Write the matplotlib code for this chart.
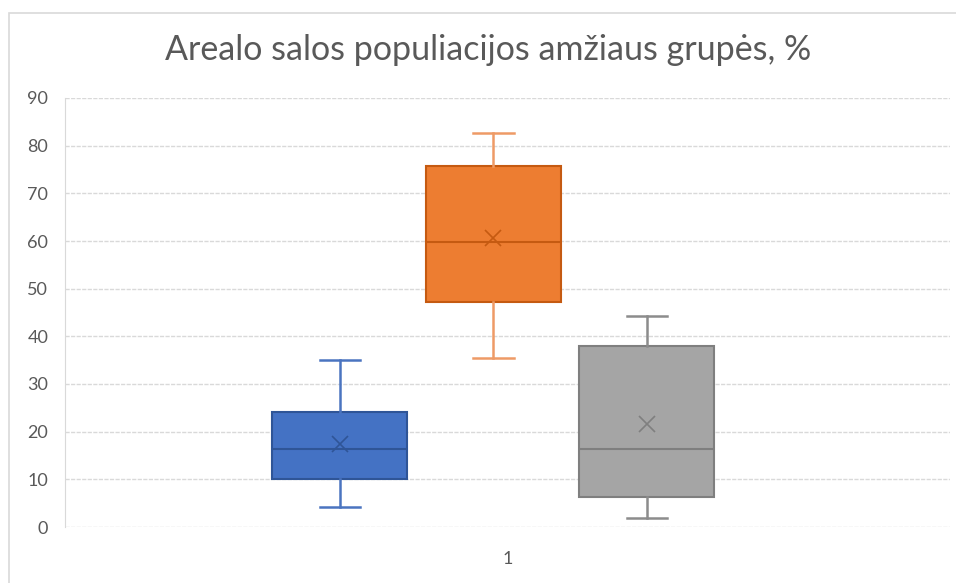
import matplotlib.pyplot as plt
from matplotlib.patches import Rectangle

# age-group distributions (%), one box per group
groups = ["0-14", "15-64", "65+"]
whisker_low = [4.1, 35.5, 1.8]
q1 = [10.0, 47.2, 6.2]
median = [16.4, 59.8, 16.4]
q3 = [24.2, 75.7, 37.9]
whisker_high = [35.0, 82.7, 44.3]
mean = [17.4, 60.6, 21.6]

yticks = [0, 10, 20, 30, 40, 50, 60, 70, 80, 90]
category_label = "1"

face_colors = ["#4472C4", "#ED7D31", "#A5A5A5"]
edge_colors = ["#2F5597", "#C55A11", "#7F7F7F"]
whisker_colors = ["#4A74C0", "#EE9A66", "#8C8C8C"]

plt.rcParams["font.family"] = ["Lato", "DejaVu Sans"]

W, H = 956, 583
fig = plt.figure(figsize=(W / 100, H / 100), dpi=100)

# chart frame
fig.patches.append(Rectangle((9 / W, -0.1), 1.2, (H - 13) / H + 0.1,
                             transform=fig.transFigure, fill=False,
                             edgecolor="#D9D9D9", linewidth=1.2))

ax = fig.add_axes([65 / W, (H - 527) / H, (950 - 65) / W, (527 - 98) / H])

box_w = 0.1525
step = 0.1734
centre = 0.484
positions = [centre + (i - 1) * step for i in range(len(groups))]

for i in range(len(groups)):
    stats = [{
        "med": median[i], "q1": q1[i], "q3": q3[i],
        "whislo": whisker_low[i], "whishi": whisker_high[i],
        "mean": mean[i], "fliers": [], "label": groups[i],
    }]
    ax.bxp(stats, positions=[positions[i]], widths=box_w, patch_artist=True,
           showmeans=True, manage_ticks=False,
           boxprops=dict(facecolor=face_colors[i], edgecolor=edge_colors[i], linewidth=1.5),
           medianprops=dict(color=edge_colors[i], linewidth=1.5),
           whiskerprops=dict(color=whisker_colors[i], linewidth=1.8),
           capprops=dict(color=whisker_colors[i], linewidth=1.8),
           capwidths=box_w * 0.3,
           meanprops=dict(marker="x", markeredgecolor=edge_colors[i],
                          markersize=11, markeredgewidth=1.2))

ax.set_xlim(0, 1)
ax.set_ylim(0, 90)
ax.set_yticks(yticks)
ax.set_xticks([0.5])
ax.set_xticklabels([category_label])
ax.tick_params(length=0, labelsize=13, colors="#595959", pad=12)
ax.tick_params(axis="x", pad=17)

ax.grid(axis="y", color="#D9D9D9", linestyle=(0, (3, 1)), linewidth=1)
ax.set_axisbelow(True)
for side in ["top", "right", "bottom"]:
    ax.spines[side].set_visible(False)
ax.spines["left"].set_color("#D9D9D9")
ax.spines["left"].set_linestyle((0, (3, 1)))

fig.text(488 / W, (H - 50) / H, "Arealo salos populiacijos amžiaus grupės, %",
         ha="center", va="center", fontsize=24.5, color="#595959")

fig.savefig("out.png", dpi=100)
